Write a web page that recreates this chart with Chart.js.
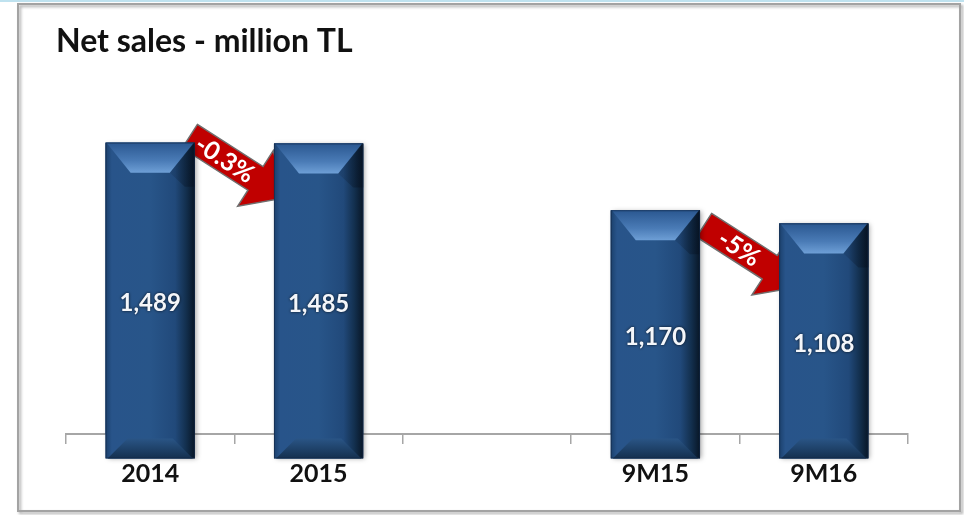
<!DOCTYPE html>
<html>
<head>
<meta charset="utf-8">
<script src="https://cdn.jsdelivr.net/npm/chart.js@4.4.0/dist/chart.umd.min.js"></script>
<style>
  html, body { margin: 0; padding: 0; background: #fff; }
  #wrap { position: relative; width: 964px; height: 515px; }
</style>
</head>
<body>
<div id="wrap"><canvas id="sales" width="964" height="515"></canvas></div>
<script>
// data
const periods = ['2014', '2015', '', '9M15', '9M16'];
const netSales = [1489, 1485, null, 1170, 1108];
// change arrows: from bar -> to bar, label
const changeFrom = [0, 3];
const changeTo = [1, 4];
const changeText = ['-0.3%', '-5%'];

const FONT = 'Lato, "Open Sans", sans-serif';

// frame round the whole picture
const framePlugin = {
    id: 'frame',
    beforeDraw(chart) {
        const ctx = chart.ctx;
        ctx.save();
        ctx.fillStyle = '#fff';
        ctx.fillRect(0, 0, chart.width, chart.height);
        ctx.fillStyle = '#bfe2ef';
        ctx.fillRect(0, 0, chart.width, 2);
        ctx.shadowColor = 'rgba(0,0,0,0.35)';
        ctx.shadowBlur = 3;
        ctx.shadowOffsetX = 2;
        ctx.shadowOffsetY = 2;
        ctx.strokeStyle = '#a3a3a3';
        ctx.lineWidth = 2;
        ctx.strokeRect(18, 4, 942, 507);
        ctx.restore();
    }
};

function drawArrow(ctx, cx, cy, angle, text) {
    ctx.save();
    ctx.translate(cx, cy);
    ctx.rotate(angle);
    ctx.beginPath();
    ctx.moveTo(-56, -14);
    ctx.lineTo(22, -14);
    ctx.lineTo(22, -33);
    ctx.lineTo(58, 0);
    ctx.lineTo(22, 33);
    ctx.lineTo(22, 14);
    ctx.lineTo(-56, 14);
    ctx.closePath();
    ctx.fillStyle = '#c00000';
    ctx.fill();
    ctx.strokeStyle = '#6f6f6f';
    ctx.lineWidth = 1.5;
    ctx.stroke();
    ctx.fillStyle = '#fff';
    ctx.font = 'bold 25px ' + FONT;
    ctx.textAlign = 'center';
    ctx.textBaseline = 'middle';
    ctx.fillText(text, -14, 1);
    ctx.restore();
}

// arrows sit behind the bars
const arrowPlugin = {
    id: 'arrows',
    beforeDatasetsDraw(chart) {
        const bars = chart.getDatasetMeta(0).data;
        const offs = [[-37, 23], [-28, 32]];
        const ctx = chart.ctx;
        changeFrom.forEach((f, i) => {
            const next = bars[changeTo[i]];
            const left = next.x - next.width / 2;
            drawArrow(ctx, left + offs[i][0], next.y + offs[i][1], 0.57, changeText[i]);
        });
    }
};

// bevelled look of the bars plus the value inside
const bevelPlugin = {
    id: 'bevel',
    afterDatasetsDraw(chart) {
        const ctx = chart.ctx;
        const meta = chart.getDatasetMeta(0);
        meta.data.forEach((bar, i) => {
            if (netSales[i] == null) return;
            const x0 = bar.x - bar.width / 2, x1 = bar.x + bar.width / 2;
            const top = bar.y, base = bar.base;
            ctx.save();
            ctx.shadowColor = 'rgba(0,0,0,0.35)';
            ctx.shadowBlur = 5;
            ctx.shadowOffsetX = 2;
            ctx.shadowOffsetY = 1;
            ctx.fillStyle = '#234d7f';
            ctx.fillRect(x0, top, x1 - x0, base - top);
            ctx.restore();

            ctx.save();
            let g = ctx.createLinearGradient(x0, 0, x1, 0);
            g.addColorStop(0, '#1b406c');
            g.addColorStop(0.07, '#28548a');
            g.addColorStop(0.5, '#285589');
            g.addColorStop(0.78, '#21497a');
            g.addColorStop(0.9, '#13304f');
            g.addColorStop(1, '#081626');
            ctx.fillStyle = g;
            ctx.fillRect(x0, top, x1 - x0, base - top);

            // top bevel
            g = ctx.createLinearGradient(0, top, 0, top + 30);
            g.addColorStop(0, '#2a5790');
            g.addColorStop(0.6, '#4a7bb6');
            g.addColorStop(1, '#6e9fd6');
            ctx.beginPath();
            ctx.moveTo(x0 + 1, top);
            ctx.lineTo(x1 - 1, top);
            ctx.lineTo(x1 - 25, top + 30);
            ctx.lineTo(x0 + 25, top + 30);
            ctx.closePath();
            ctx.fillStyle = g;
            ctx.fill();

            // right side of the top, in shade
            ctx.beginPath();
            ctx.moveTo(x1, top);
            ctx.lineTo(x1 - 25, top + 30);
            ctx.lineTo(x1 - 10, top + 44);
            ctx.lineTo(x1, top + 44);
            ctx.closePath();
            g = ctx.createLinearGradient(x1 - 25, 0, x1, 0);
            g.addColorStop(0, 'rgba(10,25,45,0.1)');
            g.addColorStop(1, 'rgba(5,15,30,0.5)');
            ctx.fillStyle = g;
            ctx.fill();

            // bottom bevel
            g = ctx.createLinearGradient(0, base - 20, 0, base);
            g.addColorStop(0, '#2a5586');
            g.addColorStop(1, '#14304f');
            ctx.beginPath();
            ctx.moveTo(x0 + 22, base - 20);
            ctx.lineTo(x1 - 22, base - 20);
            ctx.lineTo(x1 - 2, base);
            ctx.lineTo(x0 + 2, base);
            ctx.closePath();
            ctx.fillStyle = g;
            ctx.fill();

            ctx.strokeStyle = 'rgba(20,40,70,0.6)';
            ctx.lineWidth = 1;
            ctx.strokeRect(x0 + 0.5, top + 0.5, x1 - x0 - 1, base - top - 1);

            // value label
            ctx.font = 'bold 24px ' + FONT;
            ctx.textAlign = 'center';
            ctx.textBaseline = 'middle';
            ctx.shadowColor = 'rgba(0,0,0,0.8)';
            ctx.shadowBlur = 3;
            ctx.fillStyle = '#f4f6fa';
            ctx.fillText(netSales[i].toLocaleString('en-US'), bar.x, (top + base) / 2 + 3);
            ctx.restore();
        });
    }
};

new Chart(document.getElementById('sales'), {
    type: 'bar',
    data: {
        labels: periods,
        datasets: [{
            data: netSales,
            backgroundColor: '#234d7f',
            borderWidth: 0,
            barPercentage: 0.53,
            categoryPercentage: 1
        }]
    },
    options: {
        responsive: false,
        animation: false,
        layout: { padding: { left: 56, right: 56, top: 0, bottom: 0 } },
        plugins: {
            legend: { display: false },
            tooltip: { enabled: false },
            title: {
                display: true,
                text: 'Net sales - million TL',
                align: 'start',
                color: '#111',
                font: { family: FONT, size: 32, weight: 'bold', lineHeight: 1.2 },
                padding: { top: 22, bottom: 29 }
            }
        },
        scales: {
            x: {
                offset: true,
                grid: {
                    offset: true,
                    drawOnChartArea: false,
                    drawTicks: true,
                    tickLength: 10,
                    color: '#a6a6a6',
                    lineWidth: 1.5
                },
                border: { color: '#a6a6a6', width: 2 },
                ticks: {
                    color: '#111',
                    padding: 15,
                    font: { family: FONT, size: 25, weight: 'bold' }
                },
                afterFit(scale) { scale.height = 81; }
            },
            y: {
                min: 115,
                max: 1740,
                grid: { display: false },
                border: { display: false },
                ticks: { display: false },
                afterFit(scale) { scale.width = 10; }
            }
        }
    },
    plugins: [framePlugin, arrowPlugin, bevelPlugin]
});
</script>
</body>
</html>
